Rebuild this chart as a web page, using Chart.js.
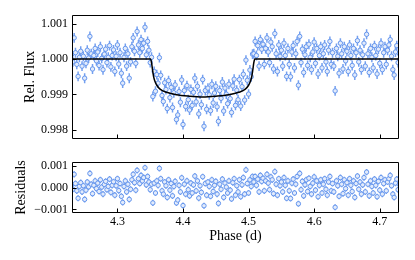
<!DOCTYPE html>
<html><head><meta charset="utf-8">
<script src="https://cdn.jsdelivr.net/npm/chart.js@4.4.1/dist/chart.umd.min.js"></script>
<style>
html,body{margin:0;padding:0;background:#fff;}
#wrap{position:relative;width:415px;height:260px;overflow:hidden;}
#c1{position:absolute;left:0;top:0;}
#c2{position:absolute;left:0;top:150px;}
</style></head><body>
<div id="wrap"><canvas id="c1" width="415" height="150"></canvas><canvas id="c2" width="415" height="110"></canvas></div>
<script>
// ---- data ----
const phase=[4.230,4.232,4.234,4.236,4.238,4.240,4.242,4.244,4.246,4.248,
4.250,4.252,4.254,4.256,4.258,4.260,4.262,4.264,4.266,4.268,
4.270,4.272,4.274,4.276,4.278,4.280,4.282,4.284,4.286,4.288,
4.290,4.292,4.294,4.296,4.298,4.300,4.302,4.304,4.306,4.308,
4.310,4.312,4.314,4.316,4.318,4.320,4.322,4.324,4.326,4.328,
4.330,4.332,4.334,4.336,4.338,4.340,4.342,4.344,4.346,4.348,
4.350,4.352,4.354,4.356,4.358,4.360,4.362,4.364,4.366,4.368,
4.370,4.372,4.374,4.376,4.378,4.380,4.382,4.384,4.386,4.388,
4.390,4.392,4.394,4.396,4.398,4.400,4.402,4.404,4.406,4.408,
4.410,4.412,4.414,4.416,4.418,4.420,4.422,4.424,4.426,4.428,
4.430,4.432,4.434,4.436,4.438,4.440,4.442,4.444,4.446,4.448,
4.450,4.452,4.454,4.456,4.458,4.460,4.462,4.464,4.466,4.468,
4.470,4.472,4.474,4.476,4.478,4.480,4.482,4.484,4.486,4.488,
4.490,4.492,4.494,4.496,4.498,4.500,4.502,4.504,4.506,4.508,
4.510,4.512,4.514,4.516,4.518,4.520,4.522,4.524,4.526,4.528,
4.530,4.532,4.534,4.536,4.538,4.540,4.542,4.544,4.546,4.548,
4.550,4.552,4.554,4.556,4.558,4.560,4.562,4.564,4.566,4.568,
4.570,4.572,4.574,4.576,4.578,4.580,4.582,4.584,4.586,4.588,
4.590,4.592,4.594,4.596,4.598,4.600,4.602,4.604,4.606,4.608,
4.610,4.612,4.614,4.616,4.618,4.620,4.622,4.624,4.626,4.628,
4.630,4.632,4.634,4.636,4.638,4.640,4.642,4.644,4.646,4.648,
4.650,4.652,4.654,4.656,4.658,4.660,4.662,4.664,4.666,4.668,
4.670,4.672,4.674,4.676,4.678,4.680,4.682,4.684,4.686,4.688,
4.690,4.692,4.694,4.696,4.698,4.700,4.702,4.704,4.706,4.708,
4.710,4.712,4.714,4.716,4.718,4.720,4.722,4.724,4.726,4.728,
4.730];
const flux=[1.00012,0.99992,1.00060,1.00018,0.99985,0.99951,1.00005,1.00022,0.99980,1.00008,
0.99946,0.99988,1.00025,1.00003,1.00064,1.00015,0.99972,1.00010,1.00030,0.99995,
1.00020,0.99982,1.00035,1.00002,0.99970,1.00014,1.00028,0.99990,1.00005,1.00038,
0.99978,1.00010,1.00026,0.99965,1.00008,1.00040,0.99986,1.00018,0.99960,0.99932,
1.00005,1.00030,0.99980,1.00015,0.99946,0.99992,1.00035,1.00060,1.00022,0.99988,
1.00078,1.00040,1.00018,1.00055,1.00030,1.00045,1.00090,1.00012,1.00050,1.00025,
0.99990,1.00005,0.99894,0.99965,0.99909,0.99956,0.99932,1.00004,0.99954,0.99897,
0.99880,0.99933,0.99914,0.99860,0.99939,0.99891,0.99920,0.99863,0.99905,0.99927,
0.99829,0.99842,0.99908,0.99878,0.99941,0.99815,0.99911,0.99866,0.99925,0.99885,
0.99856,0.99914,0.99869,0.99906,0.99946,0.99879,0.99923,0.99845,0.99901,0.99871,
0.99942,0.99810,0.99911,0.99858,0.99918,0.99899,0.99854,0.99929,0.99876,0.99904,
0.99923,0.99865,0.99824,0.99911,0.99889,0.99935,0.99853,0.99918,0.99901,0.99874,
0.99929,0.99888,0.99849,0.99924,0.99943,0.99869,0.99912,0.99885,0.99942,0.99867,
0.99922,0.99957,0.99884,0.99997,0.99940,0.99901,0.99969,0.99950,1.00014,1.00015,
1.00050,1.00010,1.00038,0.99980,1.00055,1.00028,1.00042,0.99985,1.00030,1.00060,
1.00020,0.99990,1.00048,1.00035,0.99972,1.00072,1.00015,0.99965,1.00040,1.00008,
1.00025,0.99980,1.00045,1.00010,0.99951,1.00030,0.99985,0.99950,1.00020,1.00038,
0.99975,1.00015,1.00050,0.99926,1.00064,0.99990,1.00028,0.99962,1.00012,1.00035,
0.99982,1.00042,1.00005,0.99970,1.00020,1.00048,0.99988,1.00030,0.99958,1.00010,
1.00035,0.99975,1.00015,1.00040,0.99992,0.99965,1.00025,1.00050,0.99985,1.00018,
0.99980,0.99910,1.00030,1.00008,0.99960,1.00045,1.00015,0.99972,1.00035,0.99995,
1.00022,0.99965,1.00040,1.00010,0.99982,1.00030,0.99955,1.00018,1.00052,0.99992,
1.00025,0.99970,1.00012,1.00045,0.99980,1.00070,1.00015,0.99962,1.00030,1.00005,
0.99975,1.00038,1.00010,0.99958,1.00028,0.99988,1.00045,0.99970,1.00018,1.00035,
0.99985,1.00025,1.00040,1.00055,1.00008,0.99970,0.99955,1.00020,1.00038,0.99990,
1.00015];
const resid=[0.00012,-0.00008,0.00060,0.00018,-0.00015,-0.00049,0.00005,0.00022,-0.00020,0.00008,
-0.00054,-0.00012,0.00025,0.00003,0.00064,0.00015,-0.00028,0.00010,0.00030,-0.00005,
0.00020,-0.00018,0.00035,0.00002,-0.00030,0.00014,0.00028,-0.00010,0.00005,0.00038,
-0.00022,0.00010,0.00026,-0.00035,0.00008,0.00040,-0.00014,0.00018,-0.00040,-0.00068,
0.00005,0.00030,-0.00020,0.00015,-0.00054,-0.00008,0.00035,0.00060,0.00022,-0.00012,
0.00078,0.00040,0.00018,0.00055,0.00030,0.00045,0.00090,0.00012,0.00050,0.00025,
-0.00010,0.00015,-0.00070,0.00020,-0.00025,0.00030,0.00010,0.00087,0.00040,-0.00015,
-0.00030,0.00025,0.00008,-0.00045,0.00035,-0.00012,0.00018,-0.00038,0.00005,0.00028,
-0.00070,-0.00057,0.00010,-0.00020,0.00044,-0.00082,0.00015,-0.00030,0.00030,-0.00010,
-0.00038,0.00020,-0.00025,0.00012,0.00052,-0.00015,0.00030,-0.00048,0.00008,-0.00022,
0.00049,-0.00083,0.00018,-0.00035,0.00025,0.00005,-0.00040,0.00035,-0.00018,0.00010,
0.00028,-0.00030,-0.00072,0.00015,-0.00008,0.00038,-0.00045,0.00020,0.00002,-0.00025,
0.00030,-0.00012,-0.00052,0.00022,0.00040,-0.00035,0.00008,-0.00020,0.00035,-0.00042,
0.00012,0.00045,-0.00030,0.00080,0.00018,-0.00025,0.00035,0.00005,0.00050,0.00025,
0.00050,0.00010,0.00038,-0.00020,0.00055,0.00028,0.00042,-0.00015,0.00030,0.00060,
0.00020,-0.00010,0.00048,0.00035,-0.00028,0.00072,0.00015,-0.00035,0.00040,0.00008,
0.00025,-0.00020,0.00045,0.00010,-0.00049,0.00030,-0.00015,-0.00050,0.00020,0.00038,
-0.00025,0.00015,0.00050,-0.00074,0.00064,-0.00010,0.00028,-0.00038,0.00012,0.00035,
-0.00018,0.00042,0.00005,-0.00030,0.00020,0.00048,-0.00012,0.00030,-0.00042,0.00010,
0.00035,-0.00025,0.00015,0.00040,-0.00008,-0.00035,0.00025,0.00050,-0.00015,0.00018,
-0.00020,-0.00090,0.00030,0.00008,-0.00040,0.00045,0.00015,-0.00028,0.00035,-0.00005,
0.00022,-0.00035,0.00040,0.00010,-0.00018,0.00030,-0.00045,0.00018,0.00052,-0.00008,
0.00025,-0.00030,0.00012,0.00045,-0.00020,0.00070,0.00015,-0.00038,0.00030,0.00005,
-0.00025,0.00038,0.00010,-0.00042,0.00028,-0.00012,0.00045,-0.00030,0.00018,0.00035,
-0.00015,0.00025,0.00040,0.00055,0.00008,-0.00030,-0.00045,0.00020,0.00038,-0.00010,
0.00015];
const fluxErr=0.00014;
const modelPhase=[4.2307,4.3505,4.3520,4.3535,4.3550,4.3570,4.3600,4.3650,4.3750,4.3900,4.4100,4.4300,4.4500,4.4700,4.4850,4.4950,4.5000,4.5030,4.5050,4.5065,4.5080,4.5095,4.7294];
const modelFlux=[1.0,1.0,0.99990,0.99970,0.99952,0.99938,0.99926,0.99915,0.99906,0.99899,0.99895,0.99893,0.99895,0.99899,0.99906,0.99915,0.99926,0.99938,0.99952,0.99970,0.99990,1.0,1.0];
const xTicks=[4.3,4.4,4.5,4.6,4.7];
const fluxTicks=[0.998,0.999,1.000,1.001];
const residTicks=[-0.001,0,0.001];
const xMin=4.2307, xMax=4.7294;
const fluxMin=0.997746, fluxMax=1.001246;
const residMin=-0.00116, residMax=0.00116;

// ---- style ----
const FAM="'Liberation Serif','Times New Roman','DejaVu Serif',serif";
Chart.defaults.font.family=FAM;
Chart.defaults.color='#000';
const EDGE='rgb(100,149,237)';
const BAR='rgba(100,149,237,0.9)';
const FILL='#e2ebfb';

function makeErr(vals){
  return {id:'errbars',beforeDatasetsDraw(chart){
    const {ctx,chartArea:a,scales:{x,y}}=chart;
    ctx.save();ctx.beginPath();ctx.rect(a.left,a.top,a.right-a.left,a.bottom-a.top);ctx.clip();
    ctx.strokeStyle=BAR;ctx.lineWidth=1.5;ctx.beginPath();
    for(let i=0;i<phase.length;i++){
      const px=x.getPixelForValue(phase[i]);
      ctx.moveTo(px,y.getPixelForValue(vals[i]-fluxErr));
      ctx.lineTo(px,y.getPixelForValue(vals[i]+fluxErr));
    }
    ctx.stroke();ctx.restore();
  }};
}
const frame={id:'frame',afterDraw(chart){
  const {ctx,chartArea:a,scales:{x,y}}=chart;
  ctx.save();ctx.strokeStyle='#000';ctx.lineWidth=1;
  ctx.beginPath();
  const L=Math.round(a.left)+0.5,R=Math.round(a.right)-0.5,T=Math.round(a.top)+0.5,B=Math.round(a.bottom)-0.5;
  ctx.rect(L,T,R-L,B-T);
  x.ticks.forEach(t=>{const px=Math.round(x.getPixelForValue(t.value))+0.5;ctx.moveTo(px,B);ctx.lineTo(px,B-4);});
  y.ticks.forEach(t=>{const py=Math.round(y.getPixelForValue(t.value))+0.5;ctx.moveTo(L,py);ctx.lineTo(L+4,py);});
  ctx.stroke();ctx.restore();
}};
function pts(xs,ys){return xs.map((p,i)=>({x:p,y:ys[i]}));}
const tickFont={family:FAM,size:12};
const titleFont={family:FAM,size:14,lineHeight:1};
const ptStyle={pointRadius:2.2,pointBorderWidth:1,pointBackgroundColor:FILL,pointBorderColor:EDGE,order:1,clip:0};

new Chart(document.getElementById('c1'),{
  type:'scatter',
  data:{datasets:[
    {type:'line',data:pts(modelPhase,modelFlux),borderColor:'#000',borderWidth:1.5,pointRadius:0,fill:false,cubicInterpolationMode:'monotone',order:0,clip:0},
    Object.assign({data:pts(phase,flux)},ptStyle)
  ]},
  options:{responsive:false,animation:false,devicePixelRatio:1,events:[],
    layout:{padding:{top:15,right:16,left:0,bottom:0}},
    plugins:{legend:{display:false},tooltip:{enabled:false}},
    scales:{
      x:{type:'linear',min:xMin,max:xMax,grid:{display:false,drawTicks:false},border:{display:false},ticks:{display:false},
        afterBuildTicks:s=>{s.ticks=xTicks.map(v=>({value:v}));},afterFit:s=>{s.height=7;}},
      y:{type:'linear',min:fluxMin,max:fluxMax,grid:{display:false,drawTicks:false},border:{display:false},
        ticks:{font:tickFont,color:'#000',padding:4,callback:v=>v.toFixed(3)},
        afterBuildTicks:s=>{s.ticks=fluxTicks.map(v=>({value:v}));},afterFit:s=>{s.width=72;},
        title:{display:true,text:'Rel. Flux',font:titleFont,color:'#000',padding:{top:23,bottom:0}}}
    }
  },
  plugins:[makeErr(flux),frame]
});

new Chart(document.getElementById('c2'),{
  type:'scatter',
  data:{datasets:[
    Object.assign({data:pts(phase,resid)},ptStyle)
  ]},
  options:{responsive:false,animation:false,devicePixelRatio:1,events:[],
    layout:{padding:{top:12,right:16,left:0,bottom:0}},
    plugins:{legend:{display:false},tooltip:{enabled:false}},
    scales:{
      x:{type:'linear',min:xMin,max:xMax,grid:{display:false,drawTicks:false},border:{display:false},
        ticks:{font:tickFont,color:'#000',padding:2,maxRotation:0,callback:v=>v.toFixed(1)},
        afterBuildTicks:s=>{s.ticks=xTicks.map(v=>({value:v}));},afterFit:s=>{s.height=47;},
        title:{display:true,text:'Phase (d)',font:titleFont,color:'#000',padding:{top:0,bottom:17}}},
      y:{type:'linear',min:residMin,max:residMax,grid:{display:false,drawTicks:false},border:{display:false},
        ticks:{font:tickFont,color:'#000',padding:4,callback:v=>(v<0?'\u2212':'')+Math.abs(v).toFixed(3)},
        afterBuildTicks:s=>{s.ticks=residTicks.map(v=>({value:v}));},afterFit:s=>{s.width=72;},
        title:{display:true,text:'Residuals',font:titleFont,color:'#000',padding:{top:14,bottom:0}}}
    }
  },
  plugins:[makeErr(resid),frame]
});
</script>
</body></html>
